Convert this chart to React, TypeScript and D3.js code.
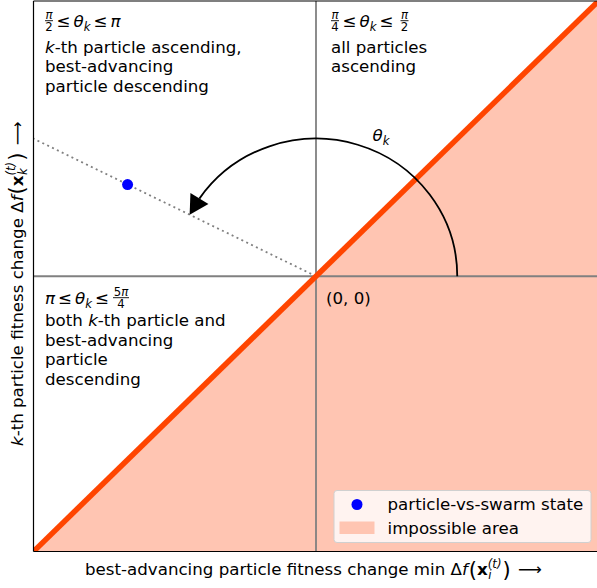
import React from 'react';
import * as d3 from 'd3';

const W = 597;
const H = 588;
const FONT = '"DejaVu Sans", sans-serif';
const FS = 16.67;
const SMALL = 11.7;

const ORANGE = '#ff4500';
const FILL = 'rgb(255,197,178)';

// data space
const xDomain = [-1, 1];
const yDomain = [-1, 1];
const boundary = [[-1, -1], [1, 1]];
const impossibleArea = [[-1, -1], [1, 1], [1, -1]];
const stateRay = [[0, 0], [-1, 0.5]];
const particleStates = [[-0.667, 0.333]];
const arcRadius = 0.5;
const thetaLabelAt = [0.23, 0.49];
const originLabel = '(0, 0)';

// texts (*...* = italic)
const topLeftLines = ['*k*-th particle ascending,', 'best-advancing', 'particle descending'];
const topRightLines = ['all particles', 'ascending'];
const bottomLeftLines = ['both *k*-th particle and', 'best-advancing', 'particle', 'descending'];
const legendLabels = ['particle-vs-swarm state', 'impossible area'];
const xLabelText = 'best-advancing particle fitness change min ';
const yLabelText = '*k*-th particle fitness change ';

function rich(s: string) {
  return s.split('*').map((p, i) => (
    <tspan key={i} fontStyle={i % 2 ? 'italic' : 'normal'}>{p}</tspan>
  ));
}

function Frac({ x, y, num, den, w }: { x: number; y: number; num: string; den: string; w: number }) {
  const cx = x + w / 2;
  return (
    <g fontSize={SMALL}>
      <text x={cx} y={y - 8} textAnchor="middle">{rich(num)}</text>
      <line x1={x} x2={x + w} y1={y - 6.3} y2={y - 6.3} stroke="#000" strokeWidth={0.9} />
      <text x={cx} y={y + 3.8} textAnchor="middle">{rich(den)}</text>
    </g>
  );
}

// Δf(x_s^(t)) with big parens; baseline restored at the end
function deltaF(sub: string, subW: number) {
  return [
    <tspan key="d">Δ</tspan>,
    <tspan key="f" fontStyle="italic">f</tspan>,
    <tspan key="lp" fontSize={21} dx={1} dy={1.5}>(</tspan>,
    <tspan key="x" fontWeight="bold" dy={-1.5}>x</tspan>,
    <tspan key="s" fontStyle="italic" fontSize={SMALL} dx={0.5} dy={4}>{sub}</tspan>,
    <tspan key="t" fontStyle="italic" fontSize={SMALL} dx={-subW} dy={-11.5}>(t)</tspan>,
    <tspan key="rp" fontSize={21} dx={1} dy={9}>)</tspan>,
    <tspan key="ar" dx={2} dy={-1.5}> ⟶</tspan>,
  ];
}

export default function App() {
  const x = d3.scaleLinear().domain(xDomain).range([33.5, 598.5]);
  const y = d3.scaleLinear().domain(yDomain).range([551.5, 1]);
  const [x0, x1] = x.range();
  const [y0, y1] = y.range();

  const line = d3.line<number[]>().x(d => x(d[0])).y(d => y(d[1]));

  // arc from angle 0 to the particle-state direction
  const [px, py] = particleStates[0];
  const phi = Math.atan2(py, px);
  const rx = x(arcRadius) - x(0);
  const ry = y(0) - y(arcRadius);
  const pt = (a: number) => [x(arcRadius * Math.cos(a)), y(arcRadius * Math.sin(a))];
  const headLen = 19;
  const headHalf = 10.5;
  const baseAngle = phi - headLen / ((rx + ry) / 2);
  const start = pt(0);
  const tip = pt(phi);
  const base = pt(baseAngle);
  const arcPath = `M${start[0]},${start[1]} A${rx},${ry} 0 0 0 ${base[0]},${base[1]}`;
  const dl = Math.hypot(tip[0] - base[0], tip[1] - base[1]);
  const ux = (tip[0] - base[0]) / dl;
  const uy = (tip[1] - base[1]) / dl;
  const bm = [tip[0] - headLen * ux, tip[1] - headLen * uy];
  const head = [
    tip,
    [bm[0] - headHalf * uy, bm[1] + headHalf * ux],
    [bm[0] + headHalf * uy, bm[1] - headHalf * ux],
  ];

  // legend box anchored lower right
  const lgW = 257;
  const lgH = 52;
  const lgX = x1 - 7.5 - lgW;
  const lgY = y0 - 9 - lgH;

  return (
    <svg width={W} height={H} style={{ position: 'absolute', left: 0, top: 0 }}
      fontFamily={FONT} fontSize={FS}>
      <rect width={W} height={H} fill="#fff" />
      <defs>
        <clipPath id="plot">
          <rect x={x0} y={y1} width={x1 - x0} height={y0 - y1} />
        </clipPath>
      </defs>
      <g clipPath="url(#plot)">
        <path d={line(impossibleArea) + 'Z'} fill={FILL} />
        <line x1={x(0)} x2={x(0)} y1={y1} y2={y0} stroke="#808080" strokeWidth={1.8} />
        <line x1={x0} x2={x1} y1={y(0)} y2={y(0)} stroke="#808080" strokeWidth={1.8} />
        <path d={line(stateRay) || ''} stroke="#808080" strokeWidth={1.8} strokeDasharray="2 3.4" fill="none" />
        <path d={line(boundary) || ''} stroke={ORANGE} strokeWidth={5.5} fill="none" />
        <path d={arcPath} stroke="#000" strokeWidth={1.8} fill="none" />
        <polygon points={head.map(p => p.join(',')).join(' ')} fill="#000" />
        {particleStates.map((d, i) => (
          <circle key={i} cx={x(d[0])} cy={y(d[1])} r={5.5} fill="blue" />
        ))}
      </g>

      {/* theta label */}
      <text x={x(thetaLabelAt[0])} y={y(thetaLabelAt[1])} textAnchor="middle">
        <tspan fontStyle="italic">θ</tspan>
        <tspan fontStyle="italic" fontSize={SMALL} dy={4}>k</tspan>
      </text>

      {/* origin */}
      <text x={x(0) + 10} y={y(0) + 28}>{originLabel}</text>

      {/* top-left quadrant */}
      <Frac x={45} y={27} num="*π*" den="2" w={8} />
      <text x={56.5} y={27}>
        ≤<tspan dx={3} fontStyle="italic">θ</tspan>
        <tspan fontStyle="italic" fontSize={SMALL} dy={4}>k</tspan>
        <tspan dx={3} dy={-4}>≤</tspan>
        <tspan dx={3} fontStyle="italic">π</tspan>
      </text>
      {topLeftLines.map((l, i) => (
        <text key={i} x={45} y={53 + i * 19.3}>{rich(l)}</text>
      ))}

      {/* top-right quadrant */}
      <Frac x={331} y={27} num="*π*" den="4" w={8} />
      <text x={342.5} y={27}>
        ≤<tspan dx={3} fontStyle="italic">θ</tspan>
        <tspan fontStyle="italic" fontSize={SMALL} dy={4}>k</tspan>
        <tspan dx={3} dy={-4}>≤</tspan>
      </text>
      <Frac x={400.5} y={27} num="*π*" den="2" w={8} />
      {topRightLines.map((l, i) => (
        <text key={i} x={331} y={53 + i * 19.3}>{rich(l)}</text>
      ))}

      {/* bottom-left quadrant */}
      <text x={45} y={304}>
        <tspan fontStyle="italic">π</tspan>
        <tspan dx={3}>≤</tspan>
        <tspan dx={3} fontStyle="italic">θ</tspan>
        <tspan fontStyle="italic" fontSize={SMALL} dy={4}>k</tspan>
        <tspan dx={3} dy={-4}>≤</tspan>
      </text>
      <Frac x={113} y={304} num="5*π*" den="4" w={16} />
      {bottomLeftLines.map((l, i) => (
        <text key={i} x={45} y={326 + i * 19.5}>{rich(l)}</text>
      ))}

      {/* legend */}
      <g>
        <rect x={lgX} y={lgY} width={lgW} height={lgH} rx={3} fill="rgb(255,243,240)" stroke="#d0d0d0" strokeWidth={1} />
        <circle cx={lgX + 23} cy={lgY + 14} r={5.5} fill="blue" />
        <text x={lgX + 53.5} y={lgY + 19.5}>{legendLabels[0]}</text>
        <rect x={lgX + 5.5} y={lgY + 31} width={35} height={12.5} fill={FILL} />
        <text x={lgX + 53.5} y={lgY + 43}>{legendLabels[1]}</text>
      </g>

      {/* spines */}
      <g stroke="#000" strokeWidth={1.2}>
        <line x1={x0} x2={x0} y1={y1} y2={y0} />
        <line x1={x0} x2={x1} y1={y0} y2={y0} />
        <line x1={x0} x2={x1} y1={y1} y2={y1} />
      </g>

      {/* axis labels */}
      <text x={85} y={575}>
        {rich(xLabelText)}
        {deltaF('i', 3.75)}
      </text>
      <text transform="rotate(-90)" x={-446} y={22.5}>
        {rich(yLabelText)}
        {deltaF('k', 7.3)}
      </text>
    </svg>
  );
}
